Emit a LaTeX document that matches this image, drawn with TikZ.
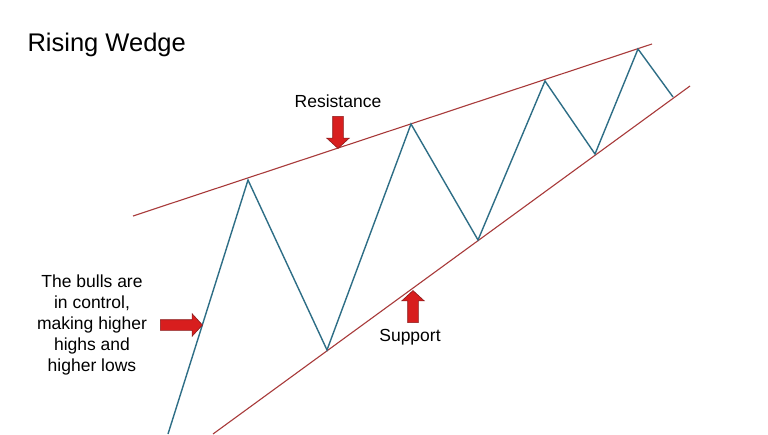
\documentclass[tikz,border=0pt]{standalone}
\usepackage{fontspec}
\setmainfont{Liberation Sans}
\usetikzlibrary{shapes.arrows}
\definecolor{zigc}{HTML}{2E6E86}
\definecolor{trc}{HTML}{A83A3A}
\definecolor{arf}{HTML}{D81E1E}
\definecolor{ard}{HTML}{8A1A1A}
\begin{document}
\begin{tikzpicture}[x=1pt,y=-1pt,
  trend/.style={draw=trc,line width=1.1pt},
  zig/.style={draw=zigc,line width=1.4pt,line join=miter},
  barrow/.style={single arrow,draw=ard,fill=arf,minimum height=32pt,inner sep=5pt,single arrow head extend=6pt,single arrow tip angle=95,line width=0.6pt},
  lbl/.style={font=\fontsize{17.5pt}{21pt}\selectfont,align=center}]
\useasboundingbox (0,0) rectangle (768,434);
\fill[white] (0,0) rectangle (768,434);
\coordinate (r1) at (133,216); \coordinate (r2) at (652,44);
\coordinate (s1) at (213,434); \coordinate (s2) at (690,86);
\draw[trend] (r1) -- (r2);
\draw[trend] (s1) -- (s2);
\coordinate (p0) at (168,434); \coordinate (p1) at (248,180);
\coordinate (p2) at (327,350); \coordinate (p3) at (411,124);
\coordinate (p4) at (478,240); \coordinate (p5) at (545,81);
\coordinate (p6) at (595,154); \coordinate (p7) at (638,49);
\coordinate (p8) at (673,97);
\draw[zig] (p0)--(p1)--(p2)--(p3)--(p4)--(p5)--(p6)--(p7)--(p8);
\node[anchor=west,font=\fontsize{25.5pt}{28pt}\selectfont] (title) at (24,45) {Rising Wedge};
\node[lbl] (res) at (338,101) {Resistance};
\node[barrow,shape border rotate=270] (ra) at (338,130) {};
\node[lbl] (sup) at (410,337) {Support};
\node[barrow,shape border rotate=90] (sa) at (413,309) {};
\node[barrow,minimum height=42pt] (la) at (179,325) {};
\node[lbl,font=\fontsize{17.5pt}{21pt}\selectfont] (bulls) at (92,325) {The bulls are\\in control,\\making higher\\highs and\\higher lows};
\end{tikzpicture}
\end{document}
